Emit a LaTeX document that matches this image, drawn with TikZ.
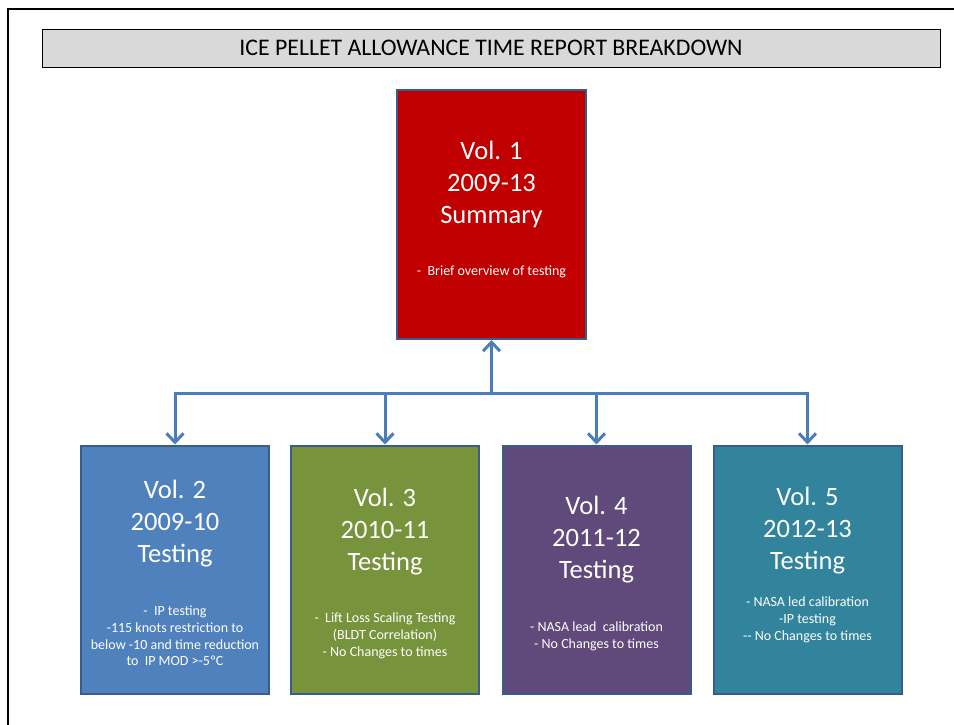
\documentclass[tikz,border=0pt]{standalone}
\usepackage{fontspec}
\setmainfont{Carlito}
\usetikzlibrary{arrows.meta}

\definecolor{boxedge}{HTML}{385D8A}
\definecolor{linkblue}{HTML}{4A7EBB}
\definecolor{titlegray}{HTML}{D9D9D9}
\definecolor{volred}{HTML}{C00000}
\definecolor{volblue}{HTML}{4F81BD}
\definecolor{volgreen}{HTML}{77933C}
\definecolor{volpurple}{HTML}{604A7B}
\definecolor{volteal}{HTML}{31849B}

\tikzset{
  volbox/.style={draw=boxedge, line width=2pt, minimum width=188pt, minimum height=248pt, inner sep=0pt},
  volhead/.style={text=white, align=center, font=\fontsize{26.5}{32}\selectfont},
  volnote/.style={text=white, align=center, font=\fontsize{14}{16.8}\selectfont},
  bus/.style={draw=linkblue, line width=3pt, line cap=rect},
  link/.style={draw=linkblue, line width=3pt, -{Straight Barb[length=9pt,width=17pt,line width=3pt]}}
}

\begin{document}
\begin{tikzpicture}[x=1pt, y=-1pt]
%%%%%%%%%%%%%%%%%%%%%%%%%%%%%%%
% page frame and title
%%%%%%%%%%%%%%%%%%%%%%%%%%%%%%%
\useasboundingbox (0,0) rectangle (954,725);
\draw [line width=1.5pt] (8,725) -- (8,9) -- (954,9);
\node (title) [draw, line width=0.8pt, fill=titlegray, minimum width=898pt, minimum height=38pt,
  font=\fontsize{23.8}{28}\selectfont] at (491,48) {\raisebox{-1pt}{ICE PELLET ALLOWANCE TIME REPORT BREAKDOWN}};
%
\node (vol1) [volbox, fill=volred, minimum width=189pt, minimum height=249pt] at (491.5,214.5) {};
\node (vol2) [volbox, fill=volblue] at (175,569.5) {};
\node (vol3) [volbox, fill=volgreen] at (385,569.5) {};
\node (vol4) [volbox, fill=volpurple] at (596.5,569.5) {};
\node (vol5) [volbox, fill=volteal] at (807.5,569.5) {};
%
\node (vol1head) [volhead] at (491.5,184.5) {Vol. 1\\2009-13\\Summary};
\node (vol1note) [volnote] at (491.5,272) {-~ Brief overview of testing};
\node (vol2head) [volhead] at (175,523.5) {Vol. 2\\2009-10\\Testing};
\node (vol2note) [volnote] at (175,636) {-~ IP testing\\-115 knots restriction to\\below -10 and time reduction\\to~ IP MOD >-5ºC};
\node (vol3head) [volhead] at (385,531.5) {Vol. 3\\2010-11\\Testing};
\node (vol3note) [volnote] at (385,636) {-~ Lift Loss Scaling Testing\\(BLDT Correlation)\\- No Changes to times};
\node (vol4head) [volhead] at (596.5,539.5) {Vol. 4\\2011-12\\Testing};
\node (vol4note) [volnote] at (596.5,636) {- NASA lead~ calibration\\- No Changes to times};
\node (vol5head) [volhead] at (807.5,530.5) {Vol. 5\\2012-13\\Testing};
\node (vol5note) [volnote] at (807.5,620) {- NASA led calibration\\-IP testing\\-{}- No Changes to times};
%%%%%%%%%%%%%%%%%%%%%%%%%%%%%%%
% connectors
%%%%%%%%%%%%%%%%%%%%%%%%%%%%%%%
\coordinate (hub) at (491.5,393);
\draw [bus] (vol2 |- hub) -- (vol5 |- hub);
\draw [link] (hub) -- (vol1.south);
\draw [link] (vol2 |- hub) -- (vol2.north);
\draw [link] (vol3 |- hub) -- (vol3.north);
\draw [link] (vol4 |- hub) -- (vol4.north);
\draw [link] (vol5 |- hub) -- (vol5.north);
%%%%%%%%%%%%%%%%%%%%%%%%%%%%%%%
\end{tikzpicture}
\end{document}
